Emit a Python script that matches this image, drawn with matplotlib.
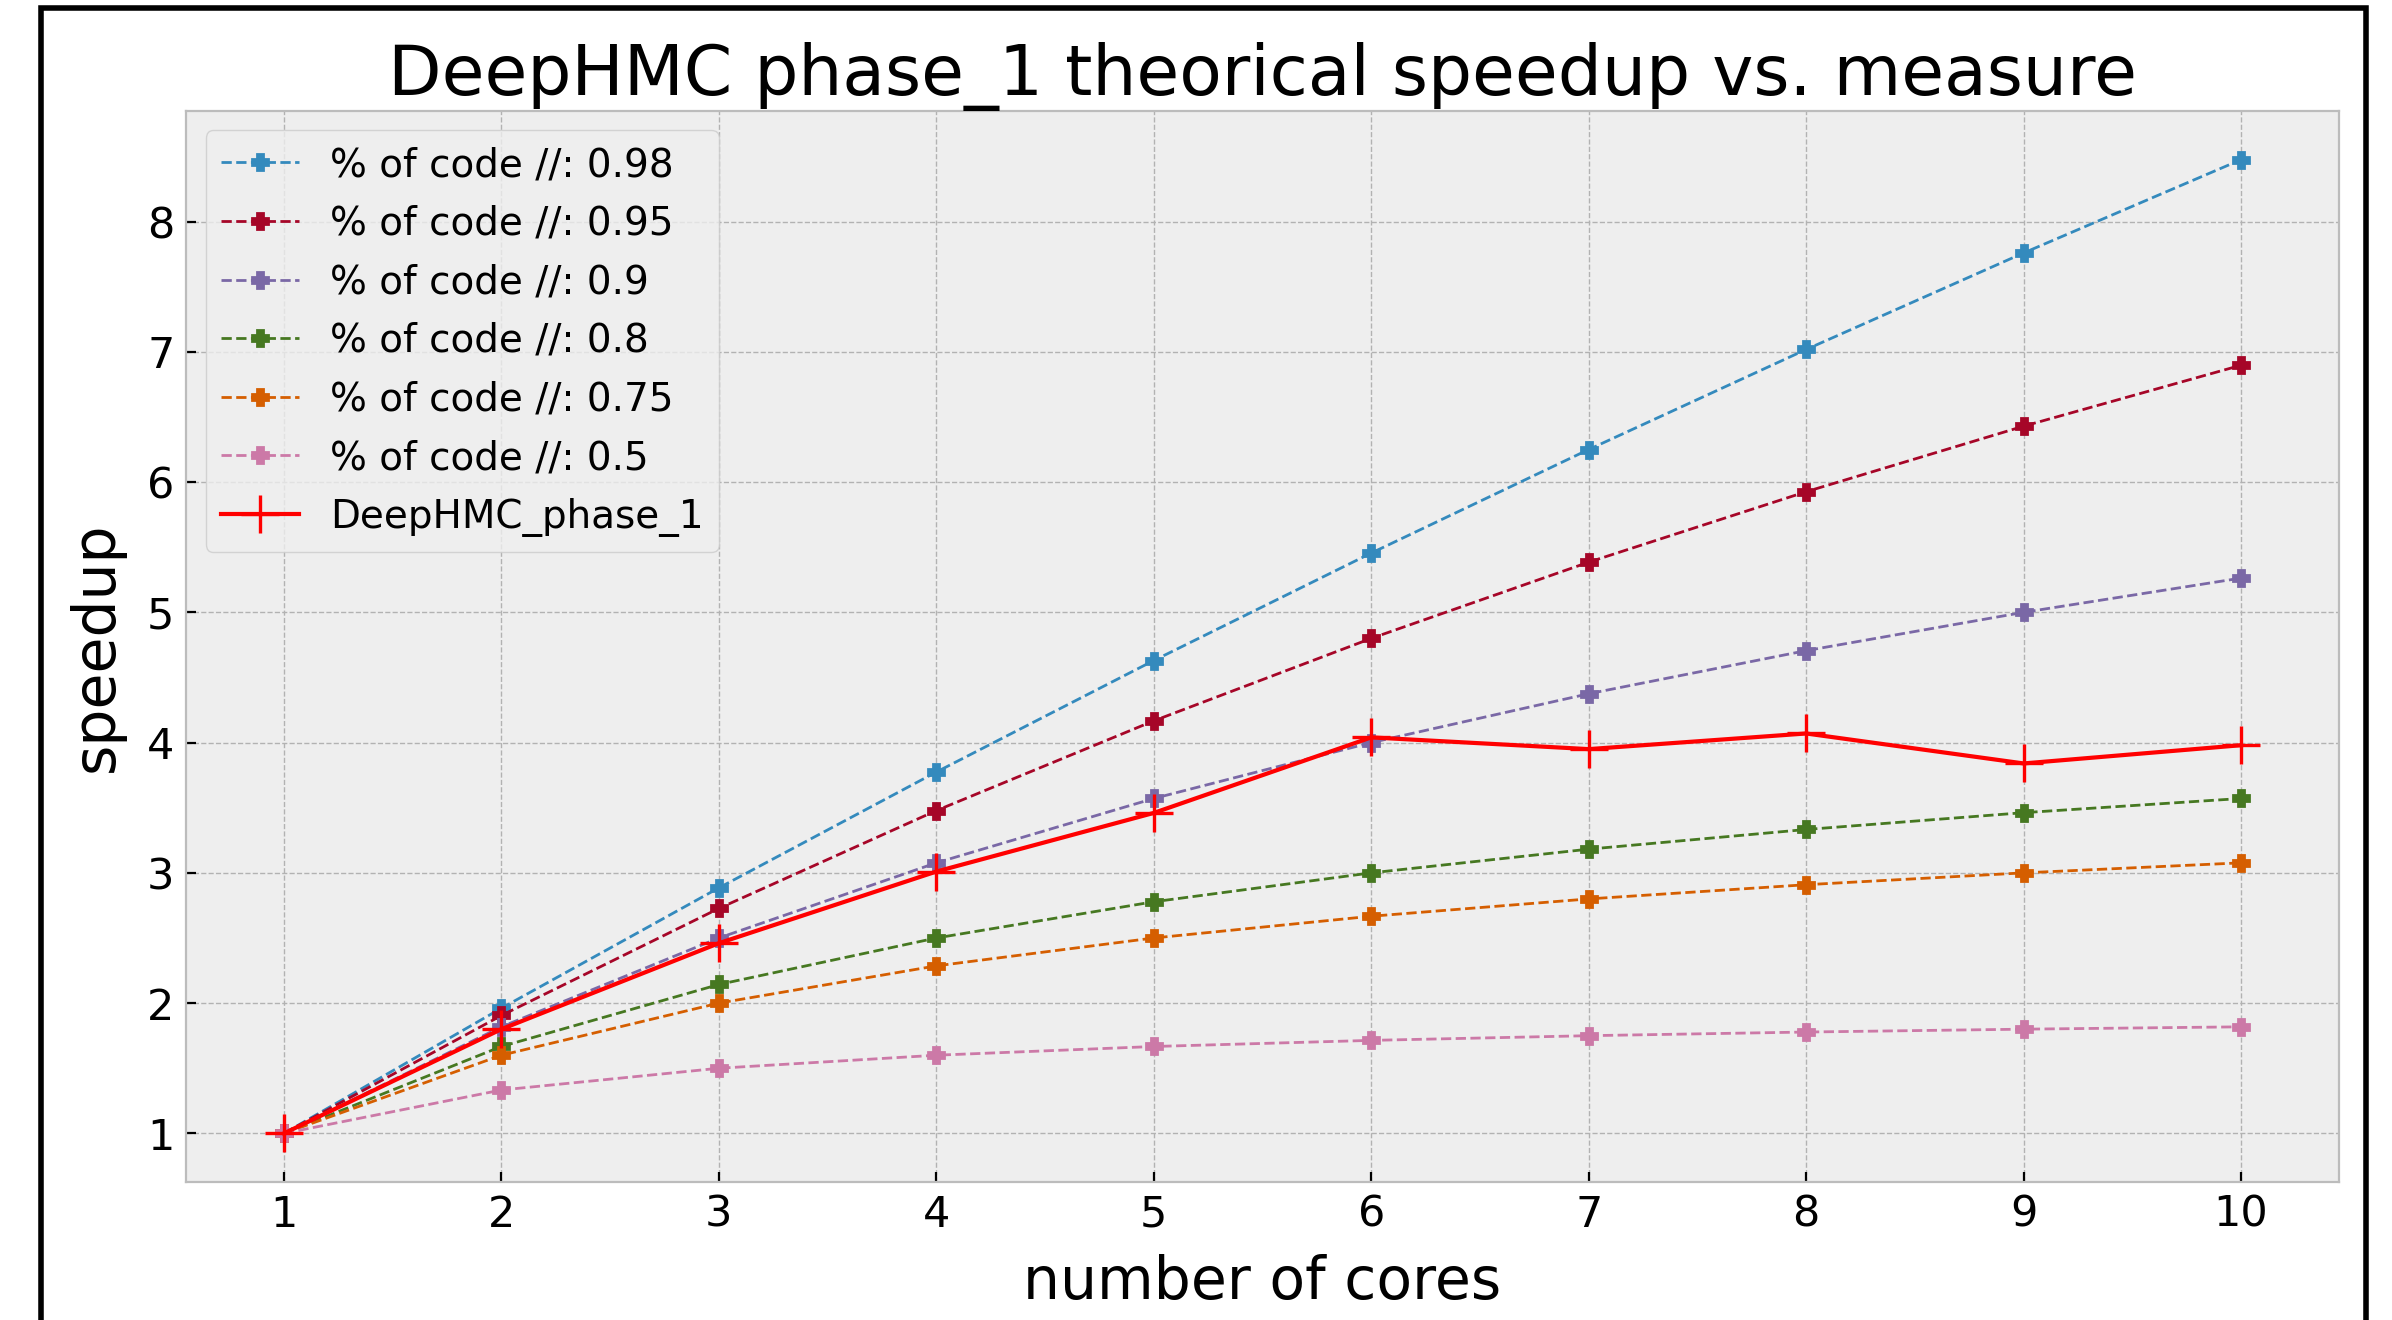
import matplotlib.pyplot as plt
from matplotlib.patches import Rectangle

plt.style.use("bmh")

cores = [1, 2, 3, 4, 5, 6, 7, 8, 9, 10]

# theoretical speedup for each parallel fraction
parallel_fractions = ["0.98", "0.95", "0.9", "0.8", "0.75", "0.5"]
speedup_098 = [1.0, 1.961, 2.885, 3.774, 4.630, 5.455, 6.250, 7.018, 7.759, 8.475]
speedup_095 = [1.0, 1.905, 2.727, 3.478, 4.167, 4.800, 5.385, 5.926, 6.429, 6.897]
speedup_090 = [1.0, 1.818, 2.500, 3.077, 3.571, 4.000, 4.375, 4.706, 5.000, 5.263]
speedup_080 = [1.0, 1.667, 2.143, 2.500, 2.778, 3.000, 3.182, 3.333, 3.462, 3.571]
speedup_075 = [1.0, 1.600, 2.000, 2.286, 2.500, 2.667, 2.800, 2.909, 3.000, 3.077]
speedup_050 = [1.0, 1.333, 1.500, 1.600, 1.667, 1.714, 1.750, 1.778, 1.800, 1.818]

# measured speedup
measured = [1.0, 1.80, 2.46, 3.01, 3.46, 4.04, 3.95, 4.07, 3.84, 3.98]

theory = [speedup_098, speedup_095, speedup_090, speedup_080, speedup_075, speedup_050]

fig = plt.figure(figsize=(11.96, 6.6), dpi=200)
ax = fig.add_axes([0.0778, 0.1045, 0.9, 0.8114])

for frac, values in zip(parallel_fractions, theory):
    ax.plot(cores, values, linestyle="--", marker="P", linewidth=1.0,
            markersize=6, label="% of code //: " + frac)

ax.plot(cores, measured, color="red", marker="+", linewidth=1.5,
        markersize=14, markeredgewidth=1.2, label="DeepHMC_phase_1")

ax.set_xticks(cores)
ax.tick_params(labelsize=15.5, pad=4.2)
ax.set_title("DeepHMC phase_1 theorical speedup vs. measure", fontsize=25, pad=4.5)
ax.set_xlabel("number of cores", fontsize=21, labelpad=6.5)
ax.set_ylabel("speedup", fontsize=21, labelpad=8)
ax.legend(loc="upper left", fontsize=14, labelspacing=0.53)

# black frame around the figure
frame = Rectangle((41 / 2392, -0.05), (2366 - 41) / 2392, (1320 - 8) / 1320 + 0.05,
                  transform=fig.transFigure, fill=False, edgecolor="black",
                  linewidth=2, clip_on=False)
fig.patches.append(frame)

fig.savefig("out.png", dpi=200)
